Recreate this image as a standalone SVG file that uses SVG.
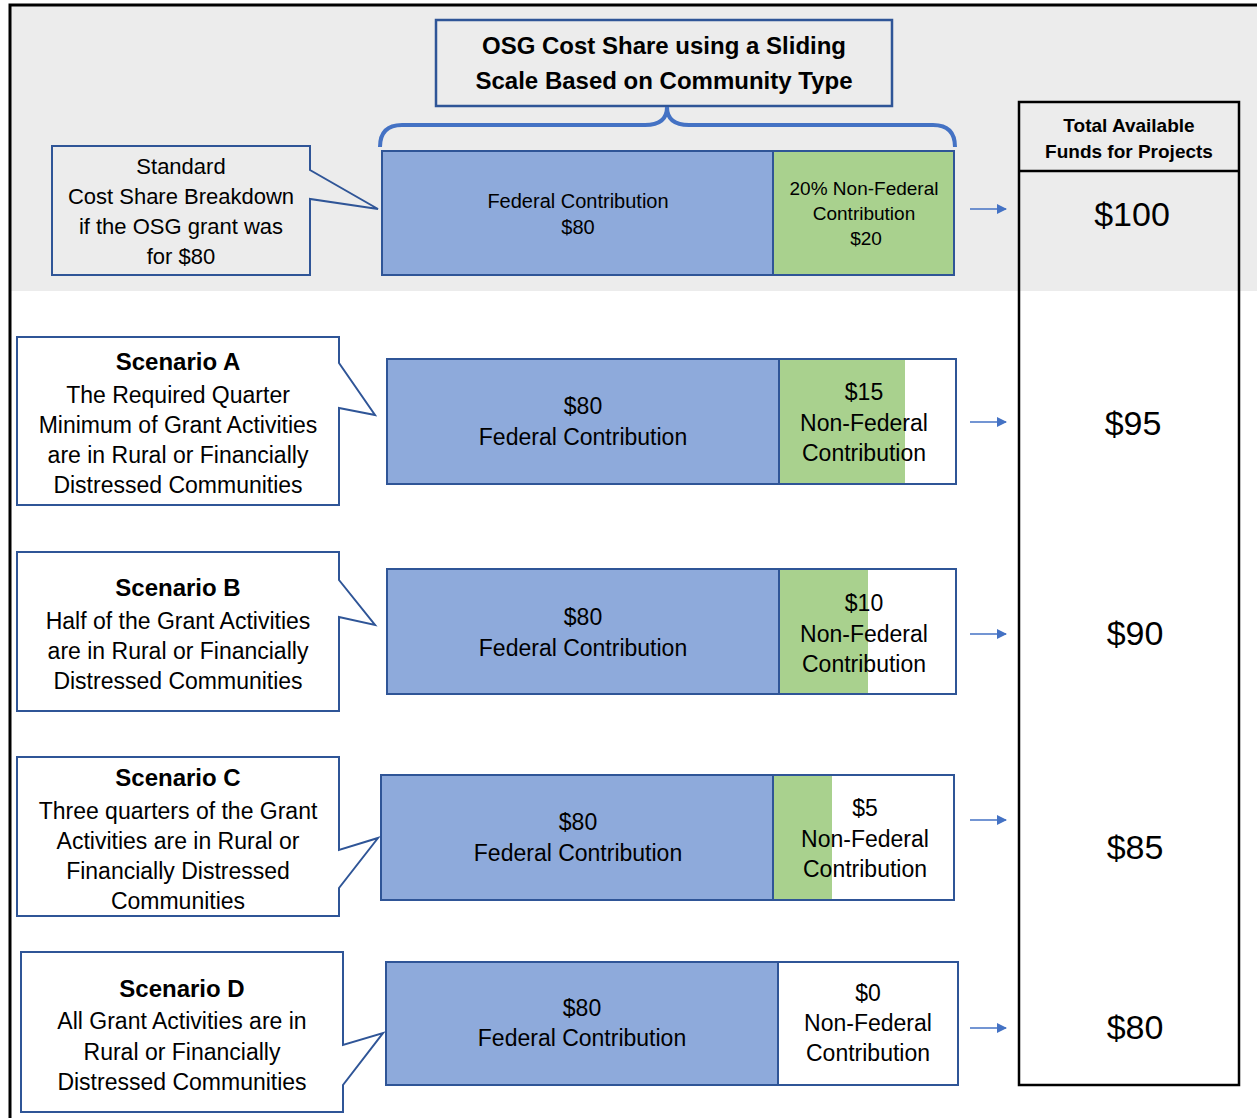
<svg xmlns="http://www.w3.org/2000/svg" width="1257" height="1118" viewBox="0 0 1257 1118">
<style>
text{font-family:"Liberation Sans",Arial,sans-serif;fill:#000;text-anchor:middle}
.co{fill:#fff;stroke:#2f5597;stroke-width:2}
.fed{fill:#8eaadb;stroke:#2f5597;stroke-width:2}
.grn{fill:#a9d18e;stroke:none}
.nfb{fill:none;stroke:#2f5597;stroke-width:2}
.b{font-weight:bold}
.t23{font-size:23px}
.t34{font-size:34px}
.arr{stroke:#4472c4;stroke-width:1.5;fill:none;marker-end:url(#ah)}
</style>
<defs>
<marker id="ah" markerWidth="10" markerHeight="10" refX="9" refY="5" orient="auto" markerUnits="userSpaceOnUse">
<path d="M0,0 L10,5 L0,10 Z" fill="#4472c4"/>
</marker>
</defs>
<rect x="0" y="0" width="1257" height="1118" fill="#fff"/>
<rect x="10" y="5" width="1247" height="286" fill="#ececec"/>
<path d="M10,1118 L10,5 L1257,5" fill="none" stroke="#000" stroke-width="3"/>

<g id="title">
<rect x="436" y="20" width="456" height="86" fill="none" stroke="#2f5597" stroke-width="2.5"/>
<text x="664" y="54" class="b" font-size="24">OSG Cost Share using a Sliding</text>
<text x="664" y="89" class="b" font-size="24">Scale Based on Community Type</text>
</g>
<g id="brace">
<path d="M380,147 Q380,125 402,125 L645,125 Q667,125 667,107 Q667,125 689,125 L933,125 Q955,125 955,147" fill="none" stroke="#4472c4" stroke-width="4"/>
</g>

<g id="total">
<rect x="1019" y="102" width="220" height="983" fill="none" stroke="#000" stroke-width="2.5"/>
<line x1="1019" y1="171" x2="1239" y2="171" stroke="#000" stroke-width="2.5"/>
<text x="1129" y="132" class="b" font-size="19">Total Available</text>
<text x="1129" y="158" class="b" font-size="19">Funds for Projects</text>
<text x="1132" y="226" class="t34">$100</text>
<text x="1133" y="435" class="t34">$95</text>
<text x="1135" y="645" class="t34">$90</text>
<text x="1135" y="859" class="t34">$85</text>
<text x="1135" y="1039" class="t34">$80</text>
</g>

<g id="standard">
<path d="M52,146 H310 V170 L378,209 L310,199 V275 H52 Z" fill="#ececec" stroke="#2f5597" stroke-width="2"/>
<text x="181" y="174" font-size="22">Standard</text>
<text x="181" y="204" font-size="22">Cost Share Breakdown</text>
<text x="181" y="234" font-size="22">if the OSG grant was</text>
<text x="181" y="264" font-size="22">for $80</text>
</g>
<g id="bar-standard">
<rect x="382" y="151" width="391" height="124" class="fed"/>
<rect x="773" y="151" width="181" height="124" fill="#a9d18e" stroke="#2f5597" stroke-width="2"/>
<text x="578" y="208" font-size="20">Federal Contribution</text>
<text x="578" y="234" font-size="20">$80</text>
<text x="864" y="195" font-size="19">20% Non-Federal</text>
<text x="864" y="220" font-size="19">Contribution</text>
<text x="866" y="245" font-size="19">$20</text>
</g>

<g id="scenarioA">
<path d="M17,337 H339 V363 L375,415 L339,408 V505 H17 Z" class="co"/>
<text x="178" y="370" class="b" font-size="24">Scenario A</text>
<text x="178" y="403" class="t23">The Required Quarter</text>
<text x="178" y="433" class="t23">Minimum of Grant Activities</text>
<text x="178" y="463" class="t23">are in Rural or Financially</text>
<text x="178" y="493" class="t23">Distressed Communities</text>
</g>
<g id="bar-A">
<rect x="387" y="359" width="392" height="125" class="fed"/>
<rect x="779" y="359" width="126" height="125" class="grn"/>
<rect x="779" y="359" width="177" height="125" class="nfb"/>
<text x="583" y="414" class="t23">$80</text>
<text x="583" y="445" class="t23">Federal Contribution</text>
<text x="864" y="400" class="t23">$15</text>
<text x="864" y="431" class="t23">Non-Federal</text>
<text x="864" y="461" class="t23">Contribution</text>
</g>

<g id="scenarioB">
<path d="M17,552 H339 V580 L375,625 L339,617 V711 H17 Z" class="co"/>
<text x="178" y="596" class="b" font-size="24">Scenario B</text>
<text x="178" y="629" class="t23">Half of the Grant Activities</text>
<text x="178" y="659" class="t23">are in Rural or Financially</text>
<text x="178" y="689" class="t23">Distressed Communities</text>
</g>
<g id="bar-B">
<rect x="387" y="569" width="392" height="125" class="fed"/>
<rect x="779" y="569" width="89" height="125" class="grn"/>
<rect x="779" y="569" width="177" height="125" class="nfb"/>
<text x="583" y="625" class="t23">$80</text>
<text x="583" y="656" class="t23">Federal Contribution</text>
<text x="864" y="611" class="t23">$10</text>
<text x="864" y="642" class="t23">Non-Federal</text>
<text x="864" y="672" class="t23">Contribution</text>
</g>

<g id="scenarioC">
<path d="M17,757 H339 V850 L378,838 L339,888 V916 H17 Z" class="co"/>
<text x="178" y="786" class="b" font-size="24">Scenario C</text>
<text x="178" y="819" class="t23">Three quarters of the Grant</text>
<text x="178" y="849" class="t23">Activities are in Rural or</text>
<text x="178" y="879" class="t23">Financially Distressed</text>
<text x="178" y="909" class="t23">Communities</text>
</g>
<g id="bar-C">
<rect x="381" y="775" width="392" height="125" class="fed"/>
<rect x="773" y="775" width="59" height="125" class="grn"/>
<rect x="773" y="775" width="181" height="125" class="nfb"/>
<text x="578" y="830" class="t23">$80</text>
<text x="578" y="861" class="t23">Federal Contribution</text>
<text x="865" y="816" class="t23">$5</text>
<text x="865" y="847" class="t23">Non-Federal</text>
<text x="865" y="877" class="t23">Contribution</text>
</g>

<g id="scenarioD">
<path d="M21,952 H343 V1045 L383,1033 L343,1085 V1112 H21 Z" class="co"/>
<text x="182" y="997" class="b" font-size="24">Scenario D</text>
<text x="182" y="1029" class="t23">All Grant Activities are in</text>
<text x="182" y="1060" class="t23">Rural or Financially</text>
<text x="182" y="1090" class="t23">Distressed Communities</text>
</g>
<g id="bar-D">
<rect x="386" y="962" width="392" height="123" class="fed"/>
<rect x="778" y="962" width="180" height="123" class="nfb"/>
<text x="582" y="1016" class="t23">$80</text>
<text x="582" y="1046" class="t23">Federal Contribution</text>
<text x="868" y="1001" class="t23">$0</text>
<text x="868" y="1031" class="t23">Non-Federal</text>
<text x="868" y="1061" class="t23">Contribution</text>
</g>

<g id="connectors">
<line x1="970" y1="209" x2="1006" y2="209" class="arr"/>
<line x1="970" y1="422" x2="1006" y2="422" class="arr"/>
<line x1="970" y1="634" x2="1006" y2="634" class="arr"/>
<line x1="970" y1="820" x2="1006" y2="820" class="arr"/>
<line x1="970" y1="1028" x2="1006" y2="1028" class="arr"/>
</g>
</svg>
